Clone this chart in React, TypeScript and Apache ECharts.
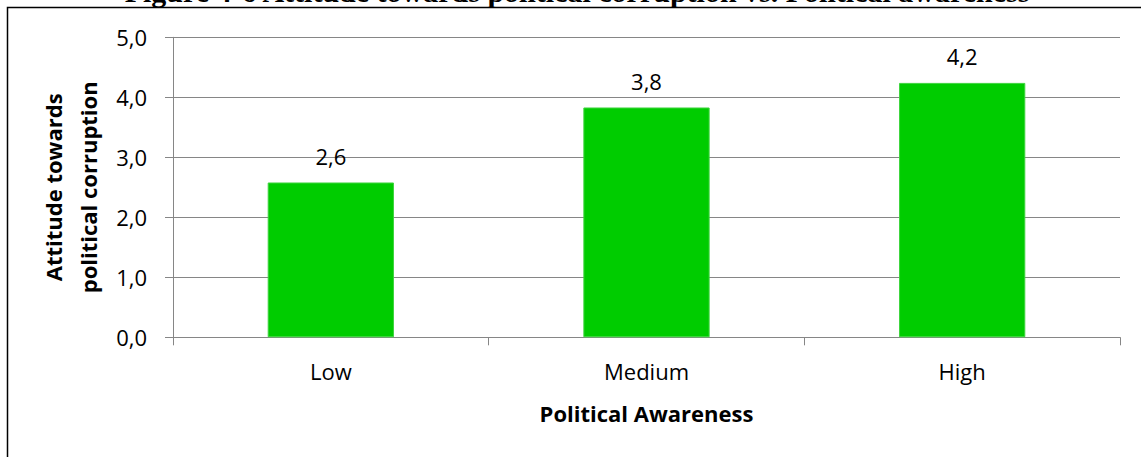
import React, { useEffect, useRef } from "react";
import * as echarts from "echarts";

const categories = ["Low", "Medium", "High"];
const values = [2.58, 3.83, 4.24];
const yTicks = { min: 0, max: 5, interval: 1 };
const titleText = "Figure 4-6 Attitude towards political corruption vs. Political awareness";
const xTitle = "Political Awareness";
const yTitle = "Attitude towards\npolitical corruption";

const FONT = "'Open Sans', sans-serif";

export default function App() {
  const ref = useRef<HTMLDivElement>(null);
  useEffect(() => {
    document.body.style.margin = "0";
    const chart = echarts.init(ref.current!, null, { renderer: "svg" });
    const fmt = (v: number) => v.toFixed(1).replace(".", ",");
    chart.setOption({
      animation: false,
      backgroundColor: "#ffffff",
      graphic: [
        {
          type: "text",
          x: 577,
          y: 6,
          style: {
            text: titleText,
            font: "bold 30px 'Liberation Serif', serif",
            fill: "#000",
            textAlign: "center",
            textVerticalAlign: "bottom",
          },
        },
        {
          type: "rect",
          shape: { x: 7.5, y: 7.5, width: 1300, height: 600 },
          style: { fill: "#fff", stroke: "#000", lineWidth: 1.5 },
          silent: true,
          z: -10,
        },
      ],
      grid: { left: 173, right: 21, top: 37.3, bottom: 119.7, containLabel: false },
      xAxis: {
        type: "category",
        data: categories,
        axisLine: { lineStyle: { color: "#868686", width: 1 } },
        axisTick: { show: true, length: 8, alignWithLabel: false, lineStyle: { color: "#868686" } },
        axisLabel: { color: "#000", fontFamily: FONT, fontSize: 22, margin: 23 },
        name: xTitle,
        nameLocation: "middle",
        nameGap: 65,
        nameTextStyle: { color: "#000", fontFamily: FONT, fontSize: 22, fontWeight: "bold" },
      },
      yAxis: {
        type: "value",
        min: yTicks.min,
        max: yTicks.max,
        interval: yTicks.interval,
        axisLine: { show: true, lineStyle: { color: "#868686", width: 1 } },
        axisTick: { show: true, length: 8, lineStyle: { color: "#868686" } },
        splitLine: { lineStyle: { color: "#868686", width: 1 } },
        axisLabel: { color: "#000", fontFamily: FONT, fontSize: 22, margin: 26, formatter: fmt },
        name: yTitle,
        nameLocation: "middle",
        nameRotate: 90,
        nameGap: 61,
        nameTextStyle: { color: "#000", fontFamily: FONT, fontSize: 22, fontWeight: "bold", lineHeight: 35 },
      },
      series: [
        {
          type: "bar",
          data: values,
          barWidth: "40%",
          itemStyle: { color: "#00CC00", borderColor: "#3ED43E", borderWidth: 1 },
          label: {
            show: true,
            position: "top",
            distance: 16,
            color: "#000",
            fontFamily: FONT,
            fontSize: 22,
            formatter: (p: any) => fmt(p.value),
          },
        },
      ],
    });
    return () => chart.dispose();
  }, []);
  return <div ref={ref} style={{ width: 1141, height: 457 }} />;
}
